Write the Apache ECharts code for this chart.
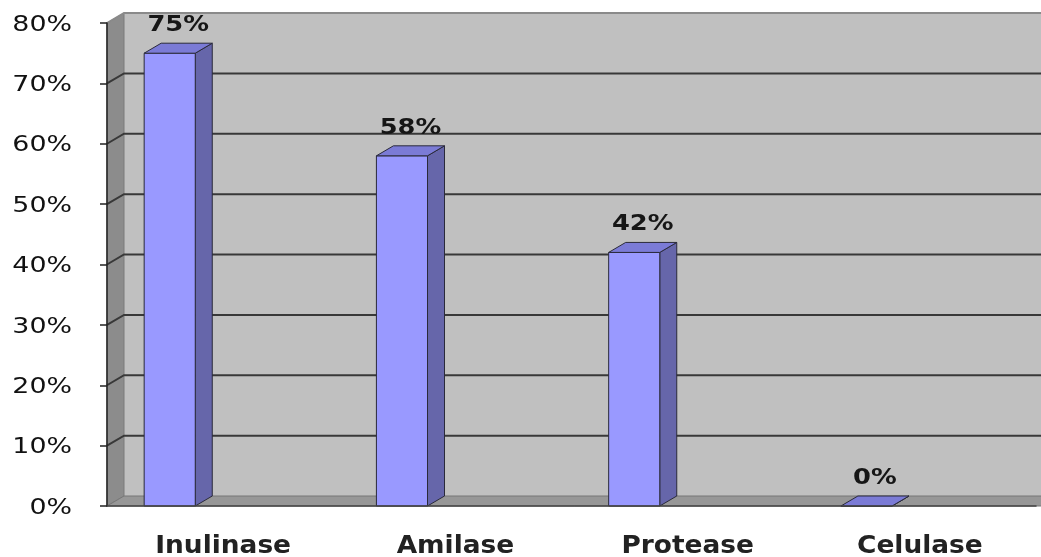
<!DOCTYPE html>
<html>
<head>
<meta charset="utf-8">
<script src="https://cdn.jsdelivr.net/npm/echarts@6/dist/echarts.min.js"></script>
<style>
	html, body { margin: 0; padding: 0; background: #fff; }
	#main { width: 1041px; height: 557px; }
</style>
</head>
<body>
<div id="main"></div>
<script>
// chart data
const categories = ['Inulinase', 'Amilase', 'Protease', 'Celulase'];
const values = [75, 58, 42, 0];
const yTicks = [0, 10, 20, 30, 40, 50, 60, 70, 80];

// fake 3d depth (px)
const DX = 17;
const DY = -10;
const FONT = '"DejaVu Sans", Verdana, sans-serif';

const chart = echarts.init(document.getElementById('main'), null, { renderer: 'canvas' });

function renderWalls(params, api) {
	const cs = params.coordSys;
	const left = cs.x, right = cs.x + cs.width;
	const top = cs.y, bottom = cs.y + cs.height;
	const children = [];
	// back wall
	children.push({
		type: 'rect',
		shape: { x: left + DX, y: top + DY, width: cs.width + 40, height: cs.height },
		style: { fill: '#c0c0c0' }
	});
	// side wall
	children.push({
		type: 'polygon',
		shape: { points: [[left, top], [left + DX, top + DY], [left + DX, bottom + DY], [left, bottom]] },
		style: { fill: '#8c8c8c', stroke: '#7a7a7a', lineWidth: 1 }
	});
	// floor
	children.push({
		type: 'polygon',
		shape: { points: [[left, bottom], [left + DX, bottom + DY], [right + DX + 40, bottom + DY], [right + 40, bottom]] },
		style: { fill: '#979797', stroke: '#777', lineWidth: 1 }
	});
	// grid lines on side + back wall
	yTicks.forEach(function (v) {
		if (v === 0) return;
		const y = api.coord([0, v])[1];
		const isTop = v === yTicks[yTicks.length - 1];
		children.push({
			type: 'polyline',
			shape: { points: [[left, y], [left + DX, y + DY], [right + DX + 40, y + DY]] },
			style: { fill: null, stroke: isTop ? '#8a8a8a' : '#383838', lineWidth: 2 }
		});
	});
	return { type: 'group', children: children };
}

function renderBar(params, api) {
	const idx = api.value(0);
	const base = api.coord([idx, 0]);
	const top = api.coord([idx, api.value(1)]);
	const bw = api.size([1, 0])[0];
	const x0 = base[0] - bw / 2 + bw * 0.16;
	const w = bw * 0.22;
	const yt = top[1], yb = base[1];
	const edge = { stroke: '#2a2a3a', lineWidth: 1 };
	return {
		type: 'group',
		children: [
			{
				type: 'polygon',
				shape: { points: [[x0 + w, yt], [x0 + w + DX, yt + DY], [x0 + w + DX, yb + DY], [x0 + w, yb]] },
				style: Object.assign({ fill: '#6666aa' }, edge)
			},
			{
				type: 'rect',
				shape: { x: x0, y: yt, width: w, height: yb - yt },
				style: Object.assign({ fill: '#9999ff' }, edge)
			},
			{
				type: 'polygon',
				shape: { points: [[x0, yt], [x0 + DX, yt + DY], [x0 + w + DX, yt + DY], [x0 + w, yt]] },
				style: Object.assign({ fill: '#7b7bd6' }, edge)
			},
			{
				type: 'text',
				x: x0 + (w + DX) / 2,
				y: yt + DY - 7,
				scaleX: 1.17,
				style: {
					text: api.value(1) + '%',
					fill: '#161616',
					fontFamily: FONT,
					fontWeight: 'bold',
					fontSize: 22,
					align: 'center',
					verticalAlign: 'bottom'
				}
			}
		]
	};
}

function renderYLabel(params, api) {
	const y = api.coord([0, api.value(1)])[1];
	return {
		type: 'text',
		x: params.coordSys.x - 35,
		y: y + 2,
		scaleX: 1.22,
		style: {
			text: api.value(1) + '%',
			fill: '#111',
			fontFamily: FONT,
			fontSize: 22,
			align: 'right',
			verticalAlign: 'middle'
		}
	};
}

function renderXLabel(params, api) {
	const p = api.coord([api.value(0), 0]);
	return {
		type: 'text',
		x: p[0],
		y: p[1] + 41,
		scaleX: 1.1,
		style: {
			text: categories[api.value(0)],
			fill: '#222',
			fontFamily: FONT,
			fontWeight: 'bold',
			fontSize: 24,
			align: 'center',
			verticalAlign: 'middle'
		}
	};
}

const option = {
	backgroundColor: '#ffffff',
	animation: false,
	grid: { left: 107, right: 5, top: 23, bottom: 51 },
	xAxis: {
		type: 'category',
		data: categories,
		z: 5,
		axisLine: { lineStyle: { color: '#444', width: 1.5 } },
		axisTick: { length: 9, lineStyle: { color: '#444', width: 1.5 } },
		axisLabel: { show: false }
	},
	yAxis: {
		type: 'value',
		min: 0,
		max: 80,
		interval: 10,
		z: 5,
		axisLine: { show: true, lineStyle: { color: '#222', width: 1.5 } },
		axisTick: { show: true, length: 7, lineStyle: { color: '#222', width: 1.5 } },
		axisLabel: { show: false },
		splitLine: { show: false }
	},
	series: [
		{
			type: 'custom',
			name: 'walls',
			silent: true,
			z: 1,
			data: [[0, 0]],
			renderItem: renderWalls
		},
		{
			type: 'custom',
			name: 'bars',
			z: 3,
			data: values.map(function (v, i) { return [i, v]; }),
			encode: { x: 0, y: 1 },
			renderItem: renderBar
		},
		{
			type: 'custom',
			name: 'yLabels',
			silent: true,
			z: 4,
			data: yTicks.map(function (v) { return [0, v]; }),
			renderItem: renderYLabel
		},
		{
			type: 'custom',
			name: 'xLabels',
			silent: true,
			z: 4,
			data: categories.map(function (c, i) { return [i, 0]; }),
			renderItem: renderXLabel
		}
	]
};

chart.setOption(option);
</script>
</body>
</html>
